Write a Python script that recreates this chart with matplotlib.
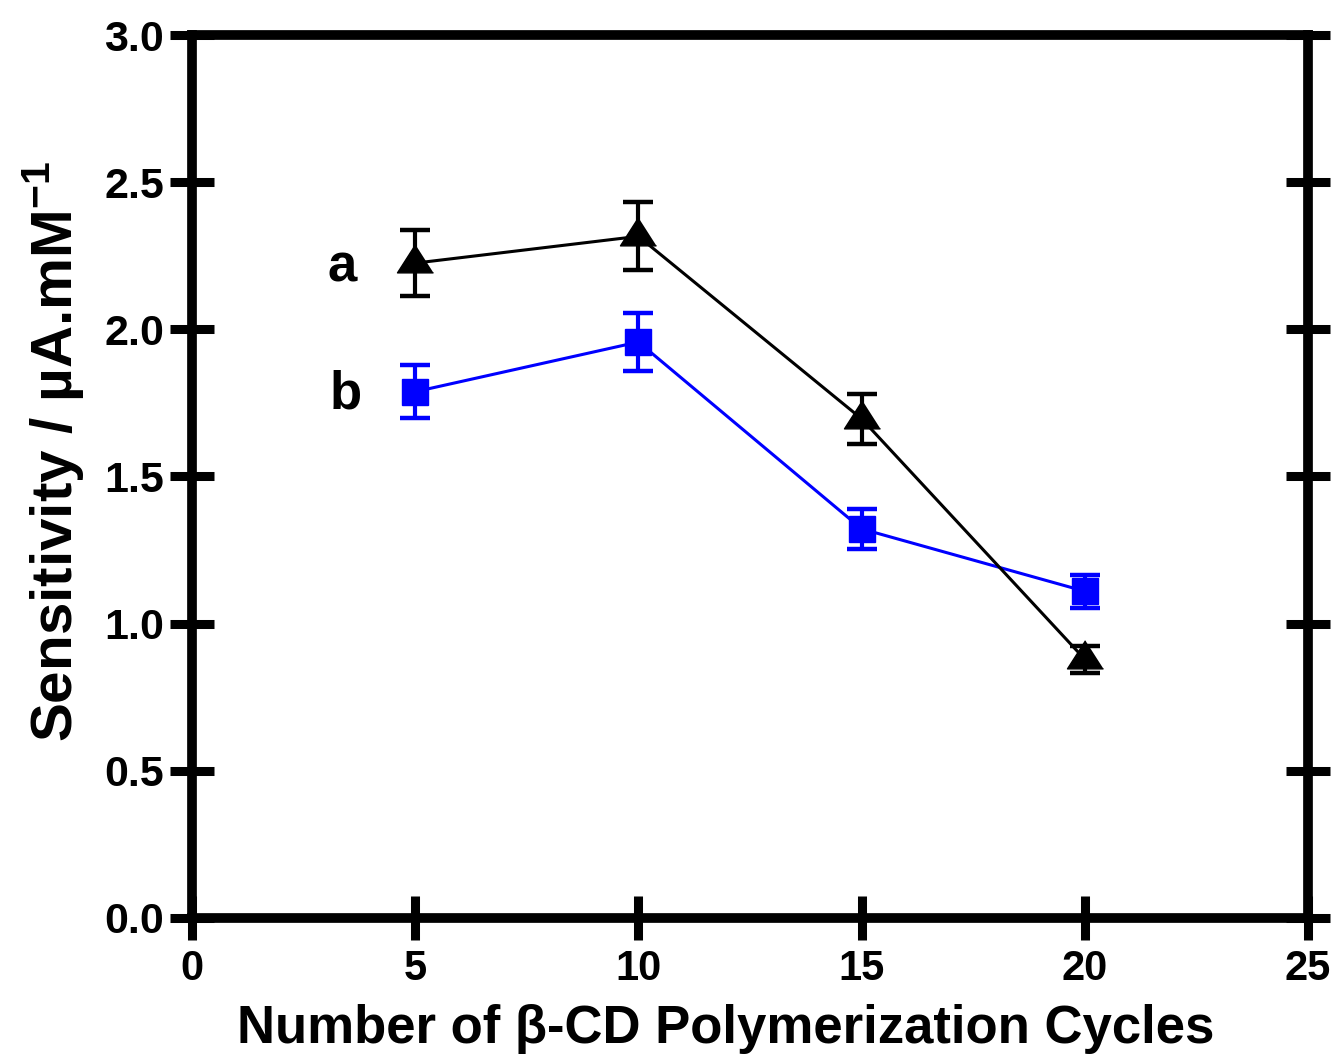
import matplotlib
matplotlib.use('Agg')
import matplotlib.pyplot as plt
from matplotlib import font_manager

plt.rcParams['font.family'] = ['Liberation Sans', 'DejaVu Sans']
plt.rcParams['font.weight'] = 'bold'
plt.rcParams['mathtext.fontset'] = 'custom'
plt.rcParams['mathtext.rm'] = 'Liberation Sans:bold'
plt.rcParams['mathtext.bf'] = 'Liberation Sans:bold'

# data
cycles = [5, 10, 15, 20]
sens_a = [2.225, 2.316, 1.696, 0.879]
err_a = [0.112, 0.116, 0.084, 0.045]
sens_b = [1.788, 1.957, 1.322, 1.110]
err_b = [0.090, 0.098, 0.067, 0.056]

x_ticks = [0, 5, 10, 15, 20, 25]
y_ticks = [0.0, 0.5, 1.0, 1.5, 2.0, 2.5, 3.0]

names = [f.name for f in font_manager.fontManager.ttflist]
narrow = 'Liberation Sans Narrow' if 'Liberation Sans Narrow' in names else 'Liberation Sans'

fig = plt.figure(figsize=(13.35, 10.55), dpi=100)
ax = fig.add_axes([0.1438, 0.1299, 0.836, 0.8369])

# triangle centred on its centroid
tri = [(0, 1), (-0.96, -0.5), (0.96, -0.5)]

ax.errorbar(cycles, sens_b, yerr=err_b, color='#0000ff', lw=2.2, marker='s', ms=19,
            mec='#0000ff', elinewidth=3, capsize=11, capthick=3.2, zorder=3)
ax.errorbar(cycles, sens_a, yerr=err_a, color='black', lw=2.2, marker=tri, ms=27,
            mec='black', elinewidth=3, capsize=11, capthick=3.2, zorder=4)

ax.text(3.37, 2.21, 'a', fontsize=38, fontweight='bold', ha='center', va='center')
ax.text(3.45, 1.78, 'b', fontsize=38, fontweight='bold', ha='center', va='center')

ax.set_xlim(0, 25)
ax.set_ylim(0, 3.0)
ax.set_xticks(x_ticks)
ax.set_yticks(y_ticks)
ax.set_xticklabels([str(v) for v in x_ticks], fontsize=30, fontweight='bold', family=narrow)
ax.set_yticklabels(['%.1f' % v for v in y_ticks], fontsize=31, fontweight='bold')

for s in ax.spines.values():
    s.set_linewidth(7)
ax.tick_params(direction='inout', length=32, width=6.5, right=True, top=False)
ax.tick_params(axis='x', pad=6)
ax.tick_params(axis='y', pad=4)

fig.text(0.5434, 0.0114, 'Number of β-CD Polymerization Cycles', fontsize=38,
         fontweight='bold', ha='center', va='baseline')
fig.text(0.040, 0.572, 'Sensitivity / µA.mM$^{-1}$', fontsize=42,
         fontweight='bold', ha='center', va='center', rotation=90)

fig.savefig('out.png', dpi=100)
